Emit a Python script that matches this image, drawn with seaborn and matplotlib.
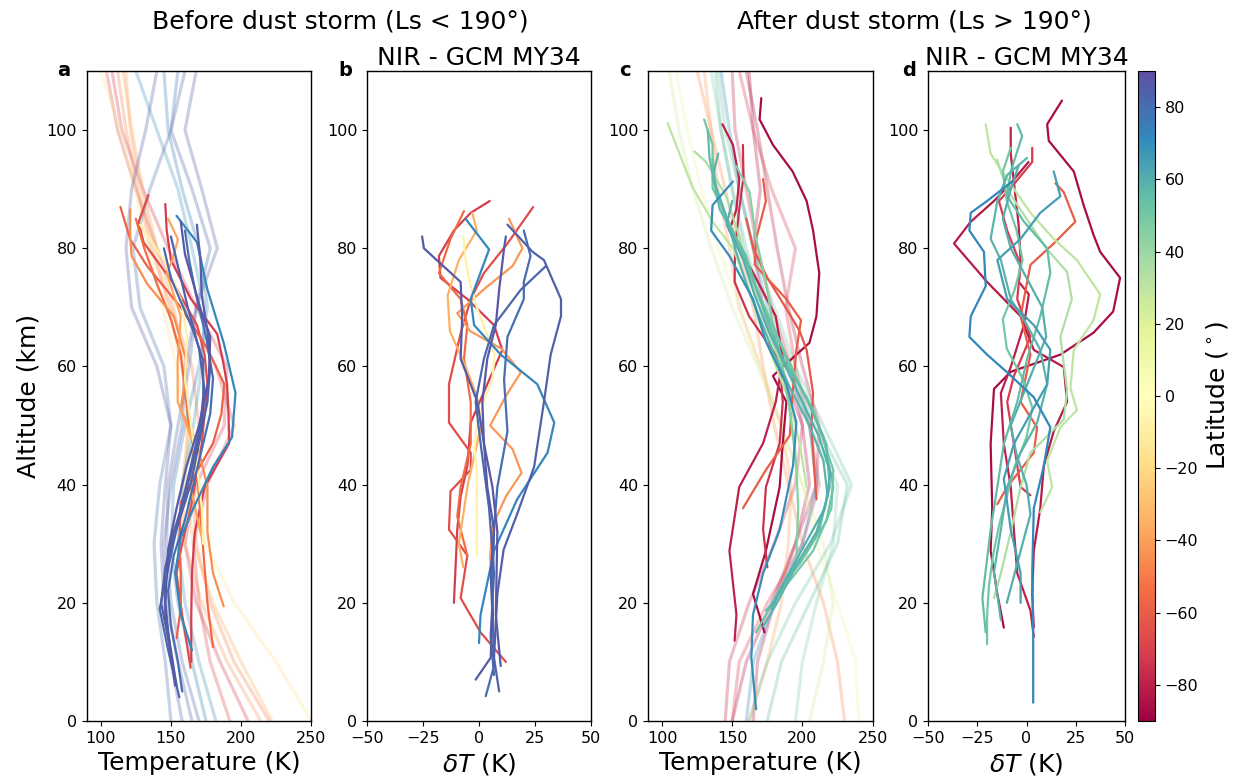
import numpy as np
import pandas as pd
import matplotlib
matplotlib.use("Agg")
import matplotlib.pyplot as plt
import seaborn as sns

# --- Datos ---
# altitudes del GCM (km)
gcm_alt = [0, 10, 20, 30, 40, 50, 60, 70, 80, 90, 100, 110]

# Panel a: perfiles NIR antes de la tormenta
a_nir_lat = [72, 85, 82, 87, -72, -58, -66, -45, -38, -8, -55, 80, 84]
a_nir_alt = [
    [85.5, 81, 73, 64, 55.5, 48, 43, 36, 31, 25, 18, 12],
    [84, 78, 72, 66, 60, 54, 47, 40, 34, 29, 23, 18, 12, 6],
    [80, 75, 71, 66, 61, 55, 50, 43, 36, 28, 19, 12, 4],
    [84.5, 79, 74, 69, 65, 58, 50, 43, 36, 29, 20, 13, 6],
    [87.5, 83, 78, 71.5, 65.5, 61, 57, 52, 47, 43, 39.6, 32, 25, 18, 10],
    [87, 81.5, 77, 70, 63, 57, 52, 47, 42, 37, 30, 25, 19, 14],
    [89, 84.5, 81, 74, 67, 62, 57, 52, 47, 41, 36, 30, 25, 18, 9],
    [86.6, 82, 78.7, 74, 68.5, 61, 56, 52.6, 47, 39.6, 32, 25, 19.4],
    [85, 81.5, 78, 75.8, 68.5, 61, 54, 47, 39.6, 32, 30],
    [84, 78, 71.5, 65, 58, 50.5, 43, 36, 30],
    [85, 80, 74, 68, 62, 56, 50, 44, 38, 32, 26, 20, 12.5],
    [83, 78, 72, 65, 58, 52, 46, 40, 34, 28, 22, 16, 10, 5],
    [82, 76, 70, 63, 56, 50, 44, 38, 32, 26, 20, 14, 8],
]
a_nir_T = [
    [154, 168.6, 176, 187.6, 196, 193.5, 180, 166, 157, 153, 157, 165],
    [168.5, 171, 172, 176, 178, 176, 170, 164, 156, 149.5, 146, 146, 150, 154],
    [145, 150, 157, 166, 173, 173, 171, 164, 157, 150, 142, 148, 156],
    [157, 160, 166, 172, 178, 177, 170, 161, 154, 148, 146, 149, 153],
    [146, 147, 150, 164, 183, 187, 190, 191, 191.5, 182, 174, 167, 165, 164.5, 164.5],
    [114, 121, 133, 157, 176, 188, 186, 180, 168, 157, 156, 157, 157, 154],
    [134, 127, 130.5, 152, 168.6, 174, 176, 174, 172, 168, 164, 158, 154, 158, 164],
    [121, 121, 122, 133, 152, 161, 159, 157, 168.6, 176, 176, 180, 187.6],
    [148, 155, 151, 147, 157, 154.8, 154.8, 166, 164, 171, 173],
    [128, 145, 157, 161.5, 160, 164, 168.6, 172, 173],
    [125, 131, 140, 150, 157, 160, 163, 168, 170, 172, 174, 176, 180],
    [160, 163, 168, 175, 180, 178, 172, 166, 160, 152, 148, 150, 155, 158],
    [150, 156, 162, 170, 174, 172, 166, 160, 152, 146, 143, 148, 152],
]
# Panel a: perfiles GCM (trazos tenues)
a_gcm_lat = [86, 85, 80, 74, 68, -72, -68, -48, -42, -35, -15, 83]
a_gcm_T = [
    [158, 150, 145, 143, 146, 150, 140, 122, 118, 122, 132, 140],
    [165, 155, 147, 145, 150, 158, 160, 168, 183, 172, 160, 168],
    [150, 146, 140, 138, 142, 150, 145, 128, 123, 135, 150, 155],
    [175, 165, 155, 150, 152, 160, 170, 176, 170, 158, 148, 145],
    [182, 170, 160, 155, 158, 166, 172, 174, 165, 155, 140, 125],
    [205, 185, 168, 160, 168, 188, 190, 168, 148, 130, 115, 108],
    [192, 178, 170, 166, 176, 195, 182, 160, 140, 125, 112, 104],
    [220, 195, 178, 168, 165, 170, 165, 150, 136, 126, 118, 112],
    [214, 190, 172, 160, 158, 163, 160, 152, 140, 130, 122, 116],
    [222, 200, 180, 166, 160, 162, 158, 148, 138, 128, 121, 118],
    [250, 225, 195, 175, 166, 160, 154, 144, 134, 124, 114, 100],
    [170, 158, 150, 147, 148, 155, 163, 168, 178, 165, 150, 160],
]

# Panel b: diferencias NIR - GCM antes de la tormenta
b_lat = [86, 84, 80, 87, 82, 72, -72, -66, -55, -42, -35, -8]
b_alt = [
    [82, 80, 74.3, 68.5, 61.3, 54, 47, 39.6, 32.4, 25, 18, 10.7, 7],
    [84, 79.4, 78, 71.4, 68.5, 62, 54, 43, 35, 29, 21.5, 10.7, 5],
    [83, 78.7, 74.3, 71.4, 65, 57.7, 49, 39.6, 32.4, 21.5, 9.3, 4.2],
    [82, 80, 73, 67, 61.3, 54, 47, 39.6, 32, 18, 9.3],
    [77, 73, 67, 61.3, 54, 47, 36, 25, 14.3, 7.8],
    [85, 79.8, 71.4, 67, 62, 57, 50.5, 45.4, 37.5, 28.8, 18, 13.2],
    [88, 86, 83, 78.7, 75, 71.4, 67, 62.8, 57, 50.5, 43.2, 38, 32.4, 20],
    [87, 80.8, 75.8, 71.4, 65.6, 57, 50.5, 45.4, 42.5, 38.9, 32.4, 28, 20.8, 15, 10],
    [86.3, 81.6, 75.8, 71.4, 67, 61.3, 54, 46.9, 39.6, 34.6, 28],
    [85, 80, 77, 73, 69, 66, 63, 59, 55, 50, 46, 42, 38, 33, 28, 20],
    [86, 83, 78, 72, 66, 60, 55, 50, 45, 40, 35, 30, 26],
    [82, 78, 74, 70, 66, 62, 58, 54, 50, 46, 42, 38, 32, 28],
]
b_dT = [
    [-25.4, -24.6, -8.2, -7.5, -8.2, -0.7, 2.2, 3.7, 6.7, 5.2, 6, 5.2, -1.5],
    [12.7, 23.9, 29, 36.6, 36.6, 32, 29, 24.6, 17, 11, 8.2, 6.7, 9],
    [20, 23, 20, 20, 12.7, 11.2, 12.7, 8.2, 6.7, 6, 6.7, 3],
    [12, 11.2, 9, 7.5, 3.7, 1.5, 2.2, 6, 8.2, 7.5, 9.7],
    [29.9, 18.7, 6.7, 2.2, -1.5, 0.7, 4.5, 6.7, 5.2, 6.7],
    [-6, 4.5, -3.7, -2.2, 9.7, 26, 33.6, 30.6, 17, 6.7, 0.7, 0],
    [4.8, -3.7, -11.2, -17.9, -17.2, -5.2, 6.7, 10.4, 3.7, -3.7, -5.2, -8.2, -9.7, -11.2],
    [24.2, 12.7, 2.2, -3.7, -8.2, -13.4, -13.4, -3.7, -3.7, -12.7, -13.4, -5.2, -8.2, 0.7, 12],
    [-6.7, -12.7, -17.9, -8.2, -5.2, -6.7, -3.7, -3.7, -8.2, -9.7, -5.2],
    [13.4, 19.4, 15, 2, -9.7, -4, 10, 18.7, 12, 5, 15, 19, 12, 6, 5, 6],
    [-3, -1, -9, -14, -13, -6, -1, 1, -2, -5, -7, -9, -7],
    [-7, -6, -4, -1, 3, 7, 6, 2, -1, -2, -1, -1, -1, -1],
]

# Panel c: perfiles NIR despues de la tormenta
c_nir_lat = [-86, -80, -75, -60, -62, 70, 56, 50, 52, 45, 30, 35, 58, 60]
c_nir_alt = [
    [105.4, 101.8, 97.5, 93, 88, 83, 75.8, 68.5, 64, 58.4, 54, 47, 39.6, 28.8, 21.5, 15],
    [101, 97.5, 91.7, 86.6, 83, 80, 75.8, 68.5, 61.3, 54, 47, 39.6, 28.8, 18, 13.6],
    [97.5, 92, 86.6, 80, 74.3, 68.5, 61, 54, 47, 39.6, 32.4, 26],
    [91.7, 88, 81.6, 77.2, 71.4, 67.8, 62.8, 55.5, 48.3, 42.5, 36],
    [85, 80, 75, 70, 66, 62.8, 55.5, 50, 44, 37.5],
    [91.3, 87.3, 83, 78.7, 71.4, 64.2, 57, 50.5, 43.2, 32.4, 25, 18, 10.7, 2],
    [100, 95.3, 86.6, 80.8, 75, 68.5, 61.3, 54.8, 46.9, 39.6, 32.4, 26.6, 20, 18.7],
    [101.8, 97.5, 90.2, 83, 75.8, 67, 59.9, 52.6, 42.5, 36, 28.8, 23, 19.4],
    [95.3, 90.2, 84.5, 78.7, 71.4, 64.2, 57, 48.3, 39.6, 33.8, 26.6, 22.3, 15],
    [93.9, 89.5, 81.6, 74.3, 67, 59.9, 52.6, 43.2, 36, 28],
    [101.2, 96, 90.2, 84.5, 80, 74.3, 67, 61.3, 54, 47, 39.6],
    [96.4, 94.6, 88.8, 82, 75, 68, 61, 54, 47, 42.5],
    [96, 92, 86, 80, 74, 68, 62, 56, 50, 44, 38, 32, 26, 20, 16],
    [88, 84, 78, 72, 66, 60, 54, 48, 42, 36, 30, 24, 19],
]
c_nir_T = [
    [170.7, 169.5, 179, 193, 203, 207.6, 212, 210, 205, 179, 188.6, 186, 183.8, 174, 164.8, 173],
    [143, 150.5, 155, 153, 148, 155, 165, 181, 186, 181, 172, 155, 148, 153, 151.7],
    [157.6, 158, 155, 152, 151.7, 162, 183.8, 186, 183.8, 174, 172, 175],
    [172, 174, 167, 166, 188.6, 199, 195.7, 193, 191, 174, 157.6],
    [160, 165, 175, 188, 198, 203, 207.6, 206.4, 208, 210],
    [150.5, 136, 135, 148, 164.8, 174, 188.6, 195.7, 193.3, 183.8, 172, 164.8, 163.6, 167],
    [132.6, 133.8, 141, 155, 164.8, 174, 186, 203, 217, 219.5, 212, 195.7, 179, 174],
    [130, 136, 136, 150.5, 162, 179, 191, 207.6, 222, 220.7, 207.6, 188.6, 176.7],
    [136, 138.6, 145.7, 160, 169.5, 183.8, 198, 214.8, 222, 217, 198, 183.8, 167],
    [152.9, 162.4, 167, 174, 179, 186, 191, 195.7, 197, 195.7],
    [104, 112.4, 122, 136, 150.5, 160, 170, 179, 191, 198, 203],
    [123, 131.4, 145.7, 155, 163, 172, 183.8, 190, 194.5, 195.7],
    [140, 136, 145, 152, 160, 170, 180, 192, 205, 215, 218, 210, 195, 182, 172],
    [150, 146, 158, 166, 176, 188, 200, 212, 220, 216, 202, 188, 178],
]
# Panel c: perfiles GCM (trazos tenues)
c_gcm_lat = [-78, -72, -82, -45, -40, 50, 55, 45, 10, 25, 70, -85]
c_gcm_T = [
    [145, 148, 162, 180, 195, 200, 192, 178, 168, 160, 152, 150],
    [150, 155, 175, 200, 212, 205, 195, 188, 195, 178, 165, 155],
    [165, 168, 180, 195, 210, 212, 200, 190, 182, 175, 168, 160],
    [230, 225, 215, 200, 190, 180, 172, 165, 155, 145, 135, 125],
    [162, 175, 185, 190, 192, 185, 170, 155, 148, 140, 135, 130],
    [162, 175, 195, 220, 235, 215, 195, 180, 165, 155, 145, 140],
    [175, 185, 205, 225, 232, 210, 190, 172, 160, 150, 142, 138],
    [195, 200, 210, 222, 225, 205, 188, 170, 158, 150, 142, 135],
    [240, 238, 225, 210, 200, 185, 170, 155, 140, 128, 118, 110],
    [205, 215, 222, 215, 200, 185, 168, 150, 135, 122, 112, 105],
    [160, 165, 180, 200, 210, 205, 190, 175, 165, 155, 148, 142],
    [150, 160, 178, 195, 205, 200, 185, 172, 165, 170, 165, 162],
]

# Panel d: diferencias NIR - GCM despues de la tormenta
d_lat = [-86, -82, 72, 30, 35, -60, -72, -80, 55, 58, 65, 50, 60]
d_alt = [
    [105, 101, 98.2, 93, 87.3, 82.3, 79.4, 75, 69.3, 65.7, 62, 59.1, 56.2, 46.9, 36, 28.8, 21.5, 15.8],
    [94.6, 91, 88, 84.5, 80.8, 74.3, 68.5, 62.8, 59.9, 54, 49, 43.2, 36, 28.8, 21.5, 15.8],
    [91.3, 88, 86, 83, 79.4, 73.6, 68.5, 65, 62, 59, 54.8, 49.7, 43.2, 36, 25.2, 14.3, 3.1],
    [101, 96, 91.7, 86, 81.6, 78, 72.2, 67.8, 62.8, 56.3, 52.6, 49.7, 44, 39.6, 35.3],
    [95, 90, 85, 80, 76, 71.4, 65, 56, 51, 45.4, 39.6, 32, 25, 20.8],
    [91, 89.5, 84.5, 80.8, 77.2, 68.5, 62, 54, 49.7, 45.4, 39.6, 36.7],
    [97, 94.6, 90.2, 88, 83, 77.2, 71.4, 65, 58.4, 54, 46.9, 39.6, 38.2],
    [100.4, 96, 90, 84, 78, 74.3, 72.2, 67, 59.9, 55.5, 46.9, 39.6, 32.4, 25, 18.7, 14.3],
    [101, 99, 93, 88.8, 84.5, 80, 75.8, 68.5, 61.3, 54, 46.9, 39.6, 32.4, 20.8, 15],
    [95.3, 92.4, 88, 81.6, 78, 71.4, 67, 62.8, 57, 50.5, 45.4, 39.6, 32.4, 25.2, 17.1],
    [93, 88.8, 86, 81.6, 78, 71.4, 67, 62.8, 57, 52, 46.9, 41, 32.4, 25, 20],
    [97, 93, 88, 83, 78, 73, 68, 63, 58, 53, 48, 43, 38, 33, 28, 23, 18, 13],
    [94, 90, 85, 80, 75, 70, 65, 60, 55, 50, 45, 40, 35, 30, 25, 20],
]
d_dT = [
    [18, 10.5, 11.3, 24, 29, 34, 37.4, 47.5, 44, 34, 17.2, -8, -16.5, -18.2, -17.4, -18.2, -14.8, -11.5],
    [1, -8, -16.5, -28.3, -36.8, -20, -3, 3.7, 18.9, 20.6, 13.8, 8.8, 7, 3.7, 2.9, 3.7],
    [-7.3, -20, -28.3, -29, -21.6, -20.7, -28.3, -29, -20, -9.8, 3.7, 12.1, 8.8, 3.7, 2.9, 3.4, 3.4],
    [-20.7, -18.2, -9.8, 2, 13.8, 25.6, 37.4, 34, 24, 22.3, 25.6, 17.2, 10.5, 13, 7],
    [-15, -10, 0, 10, 20.6, 23, 17.2, 20.6, 18.9, 2, -3, -8, -13, -16.5],
    [14.7, 18.9, 24.8, 13.8, 2, -3, 2, -3, 5.4, 3.7, -9.8, -14.8],
    [2.9, 2.9, -8, -14, -9.8, -3, -4.7, 2, -6.4, -9.8, -6.4, -3, 2],
    [-8, -8, -6, -4, -3, -3.9, 1.2, -1.3, -8, -13, -11.5, -8, -6.4, -4.7, 2, 3.7],
    [-4.7, -2.2, -8, -9.8, -1.3, 10.5, 12.1, 7, 0.3, -4.7, -11.5, -14.8, -18.2, -22.4, -20.7],
    [0.3, -9.8, -14.8, -18.2, -13, -8, 0.3, 7, 10.5, 5.4, -3, -9.8, -13, -16.5, -13],
    [13.8, 17.2, 7, -3, -14.8, -9.8, 3.7, 12.1, 10.5, 2, -6.4, -11.5, -8, -3, -3],
    [-8, -12, -10, -5, -2, -6, -12, -10, -2, 3, 0, -6, -10, -14, -17, -19, -20, -20],
    [-4, -8, -12, -8, 0, 8, 10, 4, -2, -8, -5, 0, 2, -2, -6, -10],
]


def a_tabla(lats, alts, vals):
    filas = []
    for i, (lat, al, va) in enumerate(zip(lats, alts, vals)):
        for z, v in zip(al, va):
            filas.append({"pid": i, "lat": lat, "alt": z, "val": v})
    return pd.DataFrame(filas)


# --- Figura ---
negro = {"axes.edgecolor": "black", "text.color": "black", "axes.labelcolor": "black",
         "xtick.color": "black", "ytick.color": "black"}
sns.set_style("ticks", negro)
plt.rcParams["font.family"] = ["DejaVu Sans"]
fig = plt.figure(figsize=(12.33, 7.83), dpi=100)

norma = (-90, 90)
H = 650 / 783
B = 62 / 783
ax_a = fig.add_axes([86.7 / 1233, B, 224.6 / 1233, H])
ax_b = fig.add_axes([367 / 1233, B, 224 / 1233, H])
ax_c = fig.add_axes([648 / 1233, B, 224.6 / 1233, H])
ax_d = fig.add_axes([928 / 1233, B, 197 / 1233, H])
cax = fig.add_axes([1138 / 1233, B, 17 / 1233, H])

kw = dict(x="val", y="alt", hue="lat", units="pid", estimator=None, sort=False,
          palette="Spectral", hue_norm=norma, legend=False)

# panel a
sns.lineplot(data=a_tabla(a_gcm_lat, [gcm_alt] * len(a_gcm_lat), a_gcm_T),
             ax=ax_a, lw=2.3, alpha=0.3, **kw)
sns.lineplot(data=a_tabla(a_nir_lat, a_nir_alt, a_nir_T), ax=ax_a, lw=1.6, **kw)
# panel b
sns.lineplot(data=a_tabla(b_lat, b_alt, b_dT), ax=ax_b, lw=1.6, **kw)
# panel c
sns.lineplot(data=a_tabla(c_gcm_lat, [gcm_alt] * len(c_gcm_lat), c_gcm_T),
             ax=ax_c, lw=2.3, alpha=0.3, **kw)
sns.lineplot(data=a_tabla(c_nir_lat, c_nir_alt, c_nir_T), ax=ax_c, lw=1.6, **kw)
# panel d
sns.lineplot(data=a_tabla(d_lat, d_alt, d_dT), ax=ax_d, lw=1.6, **kw)

for ax in [ax_a, ax_c]:
    ax.set_xlim(90, 250)
    ax.set_xticks([100, 150, 200, 250])
    ax.set_xlabel("Temperature (K)", fontsize=18)
for ax in [ax_b, ax_d]:
    ax.set_xlim(-50, 50)
    ax.set_xticks([-50, -25, 0, 25, 50])
    ax.set_xlabel(r"$\delta T$ (K)", fontsize=18)
    ax.set_title("NIR - GCM MY34", fontsize=18, pad=4)

for ax, letra in zip([ax_a, ax_b, ax_c, ax_d], "abcd"):
    ax.set_ylim(0, 110)
    ax.set_yticks([0, 20, 40, 60, 80, 100])
    ax.set_ylabel("")
    ax.tick_params(labelsize=11.5)
    for s in ax.spines.values():
        s.set_linewidth(1.0)
    ax.text(-29 / 224, 1.0, letra, transform=ax.transAxes, fontsize=14,
            fontweight="bold", ha="left", va="center")

ax_a.set_ylabel("Altitude (km)", fontsize=18)

# barra de color
sm = plt.cm.ScalarMappable(cmap="Spectral", norm=plt.Normalize(*norma))
cb = fig.colorbar(sm, cax=cax, ticks=range(-80, 81, 20))
cb.set_label(r"Latitude ($^\circ$)", fontsize=18)
cb.ax.tick_params(labelsize=11.5)

fig.text(340 / 1233, 1 - 22 / 783, "Before dust storm (Ls < 190°)", fontsize=18,
         ha="center", va="center")
fig.text(914 / 1233, 1 - 22 / 783, "After dust storm (Ls > 190°)", fontsize=18,
         ha="center", va="center")

plt.savefig("out.png", dpi=100)
